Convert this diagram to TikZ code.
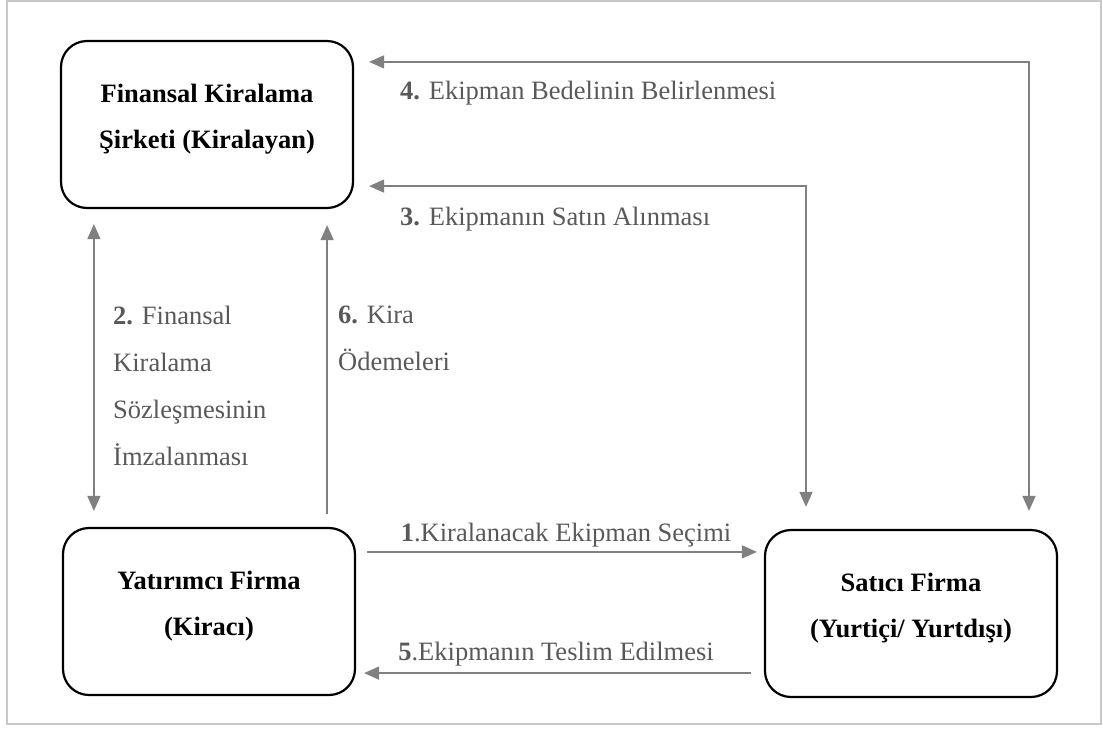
\documentclass[tikz,border=0pt]{standalone}
\usepackage{fontspec}
\setmainfont{Liberation Serif}
\usetikzlibrary{arrows.meta,calc}
\definecolor{arrgray}{HTML}{808080}
\definecolor{txtgray}{HTML}{595959}
\definecolor{framegray}{HTML}{C8C8C8}
\begin{document}
\begin{tikzpicture}[x=1pt,y=-1pt,
  entity/.style={draw=black,line width=2.2pt,rounded corners=26pt,minimum width=292pt,minimum height=167pt,align=center,font=\fontsize{26.5}{46}\selectfont\bfseries,inner sep=0pt,text depth=16pt},
  arr/.style={draw=arrgray,line width=1.4pt,-{Triangle[length=15pt,width=13pt]}},
  darr/.style={draw=arrgray,line width=1.4pt,{Triangle[length=15pt,width=13pt]}-{Triangle[length=15pt,width=13pt]}},
  lbl/.style={text=txtgray,font=\fontsize{26.5}{47}\selectfont,inner sep=0pt,align=left}]
\useasboundingbox (0,0) rectangle (1103,729);
\draw[framegray,line width=2pt] (7,1) rectangle (1101,724);
\node[entity] (A) at (207,124.5) {Finansal Kiralama\\Şirketi (Kiralayan)};
\node[entity] (B) at (209,611.5) {Yatırımcı Firma\\(Kiracı)};
\node[entity] (C) at (911,613.5) {Satıcı Firma\\(Yurtiçi/ Yurtdışı)};
% 4
\draw[darr] ($(C.north)+(118,-18)$) |- ($(A.north east)+(15,22)$);
% 3
\draw[darr] ($(C.north)+(-105,-22)$) |- ($(A.south east)+(15,-23)$);
% 2
\draw[darr] ($(A.south west)+(34,15)$) -- ($(B.north west)+(32,-16)$);
% 6
\draw[arr] ($(B.north east)+(-29,-13)$) -- ($(A.south east)+(-27,16)$);
% 1
\draw[arr] ($(B.north east)+(11,25)$) -- ($(C.north west)+(-7,23)$);
% 5
\draw[arr] ($(C.south west)+(-13,-25)$) -- ($(B.south east)+(8,-23)$);
\node[lbl,anchor=west] (l4) at (400,93) {\textbf{4.} Ekipman Bedelinin Belirlenmesi};
\node[lbl,anchor=west] (l3) at (400,219) {\textbf{3.} Ekipmanın Satın Alınması};
\node[lbl,anchor=north west] (l2) at (113,306) {\textbf{2.} Finansal\\Kiralama\\Sözleşmesinin\\İmzalanması};
\node[lbl,anchor=north west] (l6) at (338,306) {\textbf{6.} Kira\\Ödemeleri};
\node[lbl] (l1) at (566,535) {\textbf{1}.Kiralanacak Ekipman Seçimi};
\node[lbl] (l5) at (556,654) {\textbf{5}.Ekipmanın Teslim Edilmesi};
\end{tikzpicture}
\end{document}
